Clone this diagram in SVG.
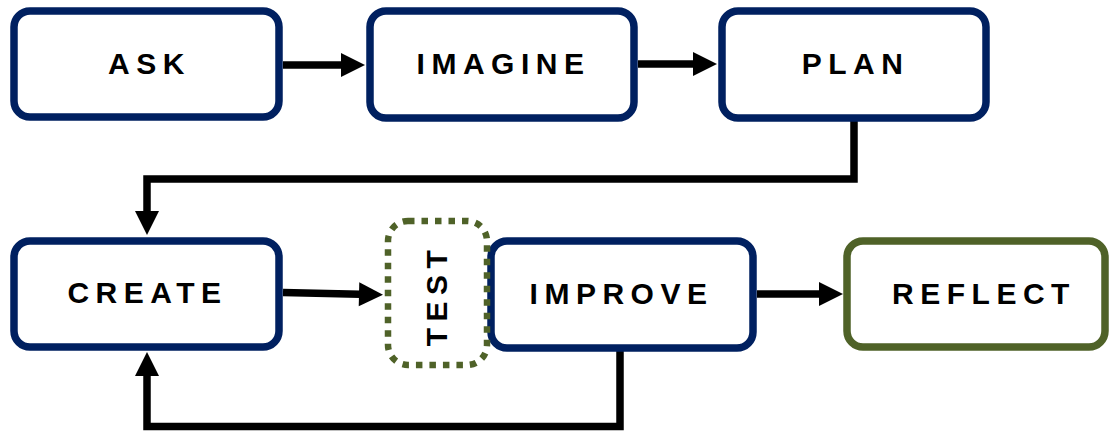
<svg xmlns="http://www.w3.org/2000/svg" width="1109" height="431" viewBox="0 0 1109 431">
  <style>
    .box { fill: #ffffff; stroke: #002060; stroke-width: 7.5; }
    .green { fill: #ffffff; stroke: #4f6228; stroke-width: 7.5; }
    .dotted { fill: none; stroke: #4f6228; stroke-width: 6.5; stroke-dasharray: 6.5 7; }
    .lbl { font-family: "Liberation Sans", Arial, sans-serif; font-weight: bold; font-size: 30px; letter-spacing: 6.5px; fill: #000000; text-anchor: middle; }
    .conn { fill: none; stroke: #000000; stroke-width: 7.5; stroke-linejoin: miter; marker-end: url(#ah); }
  </style>
  <defs>
    <marker id="ah" markerUnits="userSpaceOnUse" markerWidth="26" markerHeight="26" refX="1" refY="12" orient="auto" overflow="visible">
      <path d="M0,0 L24,12 L0,24 Z" fill="#000000"/>
    </marker>
  </defs>
  <rect x="0" y="0" width="1109" height="431" fill="#ffffff"/>

  <g id="connectors">
    <path class="conn" d="M283,65 H342"/>
    <path class="conn" d="M638,64 H694"/>
    <path class="conn" d="M854,121 V179 H147 V212"/>
    <path class="conn" d="M283,292.5 L360,294.2"/>
    <path class="conn" d="M620,351 V426.5 H147 V375"/>
    <path class="conn" d="M757,294 H820"/>
  </g>

  <g id="ask">
    <rect class="box" x="14" y="11" width="265" height="106" rx="16"/>
    <text class="lbl" x="149.5" y="74">ASK</text>
  </g>
  <g id="imagine">
    <rect class="box" x="370" y="11" width="264" height="107" rx="16"/>
    <text class="lbl" x="503.5" y="74">IMAGINE</text>
  </g>
  <g id="plan">
    <rect class="box" x="722" y="11" width="264" height="107" rx="16"/>
    <text class="lbl" x="855.5" y="74">PLAN</text>
  </g>
  <g id="create">
    <rect class="box" x="14" y="241" width="265" height="106" rx="16"/>
    <text class="lbl" x="147.5" y="303">CREATE</text>
  </g>
  <g id="improve">
    <rect class="box" x="491" y="241" width="262" height="107" rx="16"/>
    <text class="lbl" x="621.5" y="304">IMPROVE</text>
  </g>
  <g id="test">
    <rect class="dotted" x="388" y="221" width="99" height="144" rx="20"/>
    <text class="lbl" transform="translate(447,295) rotate(-90)" x="0" y="0">TEST</text>
  </g>
  <g id="reflect">
    <rect class="green" x="847" y="241" width="258" height="106" rx="16"/>
    <text class="lbl" x="984" y="304">REFLECT</text>
  </g>
</svg>
